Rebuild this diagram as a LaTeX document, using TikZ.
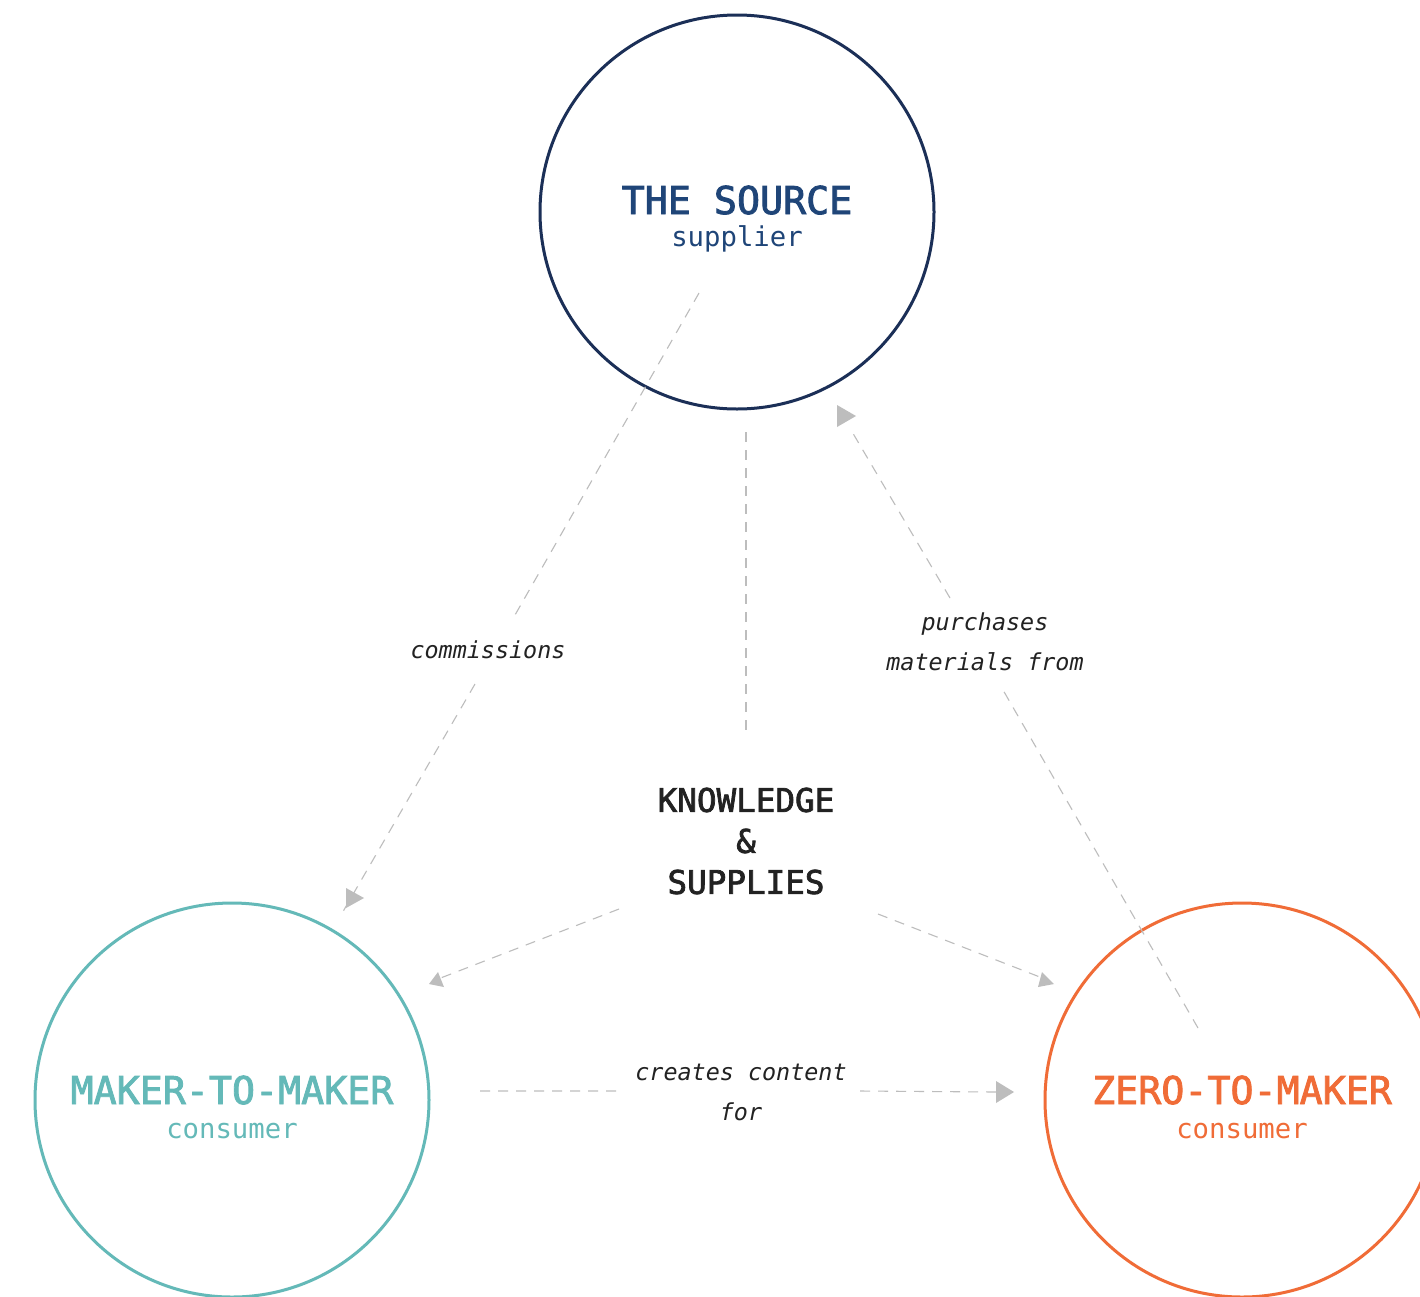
\documentclass[tikz,border=0pt]{standalone}
\usepackage{fontspec}
\setmonofont{DejaVu Sans Mono}
\newfontfamily\labelfont{DejaVu Sans Mono}
\newfontfamily\headfont[FakeBold=2.2]{DejaVu Sans Mono}
\definecolor{navy}{HTML}{1B2F57}
\definecolor{navytext}{HTML}{1F4578}
\definecolor{teal}{HTML}{64B9B8}
\definecolor{orange}{HTML}{F06C37}
\definecolor{ink}{HTML}{222222}
\definecolor{link}{HTML}{BDBDBD}
\begin{document}
\begin{tikzpicture}[x=1pt,y=-1pt,
  party/.style={circle,draw,line width=3pt,minimum size=394pt,inner sep=0pt},
  title/.style={font=\headfont\fontsize{38.3}{40}\selectfont,inner sep=0pt,anchor=base},
  role/.style={font=\labelfont\fontsize{27.3}{28}\selectfont,inner sep=0pt,anchor=base},
  verb/.style={font=\labelfont\itshape\fontsize{23.4}{40}\selectfont,inner sep=0pt,align=center,text=ink},
  link/.style={draw=link,line width=1.1pt,dash pattern=on 10pt off 8pt},
  tip/.style={fill=link}]
\useasboundingbox (0,0) rectangle (1420,1296);
\fill[white] (0,0) rectangle (1420,1296);
\clip (0,0) rectangle (1420,1296);

% the three parties
\node[party,draw=navy]   (source) at (737,212)  {};
\node[party,draw=teal]   (maker)  at (232,1100) {};
\node[party,draw=orange] (zero)   at (1242,1100) {};

\node[title,text=navytext] (sourceT) at (737,214) {THE SOURCE};
\node[role,text=navytext]  (sourceR) at (737,246) {supplier};
\node[title,text=teal]     (makerT)  at (232,1104) {MAKER-TO-MAKER};
\node[role,text=teal]      (makerR)  at (232,1138) {consumer};
\node[title,text=orange]   (zeroT)   at (1242,1104) {ZERO-TO-MAKER};
\node[role,text=orange]    (zeroR)   at (1242,1138) {consumer};

% shared hub in the middle
\node[font=\headfont\fontsize{32.6}{41}\selectfont,text=ink,align=center,inner sep=0pt]
  (hub) at (746,841) {KNOWLEDGE\\\&\\SUPPLIES};

% relation labels
\node[verb] (commissions) at (488,650) {commissions};
\node[verb] (purchases)   at (985,642) {purchases\\materials from};
\node[verb] (creates)     at (741,1092) {creates content\\for};

% connector end points
\coordinate (c1) at (699,293);  \coordinate (c2) at (515,615);
\coordinate (c3) at (475,684);  \coordinate (c4) at (341,915);
\coordinate (k1) at (746,432);  \coordinate (k2) at (746,735);
\coordinate (p1) at (1198,1028); \coordinate (p2) at (1003,690);
\coordinate (p3) at (950,598);  \coordinate (p4) at (851,430);
\coordinate (m1) at (619,909);  \coordinate (m2) at (438,979);
\coordinate (z1) at (878,914);  \coordinate (z2) at (1045,979);
\coordinate (r1) at (480,1091); \coordinate (r2) at (622,1091);
\coordinate (r3) at (860,1091); \coordinate (r4) at (997,1092);

% source commissions maker-to-maker
\path[link] (c1) -- (c2) (c3) -- (c4);
\fill[tip] (346,888) -- (364,898) -- (346,908) -- cycle;
% knowledge & supplies come from the source
\path[link] (k1) -- (k2);
% zero-to-maker purchases from the source
\path[link] (p1) -- (p2) (p3) -- (p4);
\fill[tip] (837,405) -- (856,416) -- (837,427) -- cycle;
% hub feeds both consumers
\path[link] (m1) -- (m2);
\fill[tip] (429,984) -- (438,972) -- (444,987) -- cycle;
\path[link] (z1) -- (z2);
\fill[tip] (1054,984) -- (1042,972) -- (1038,987) -- cycle;
% maker-to-maker creates content for zero-to-maker
\path[link] (r1) -- (r2) (r3) -- (r4);
\fill[tip] (996,1081) -- (1014,1092) -- (996,1103) -- cycle;
\end{tikzpicture}
\end{document}
